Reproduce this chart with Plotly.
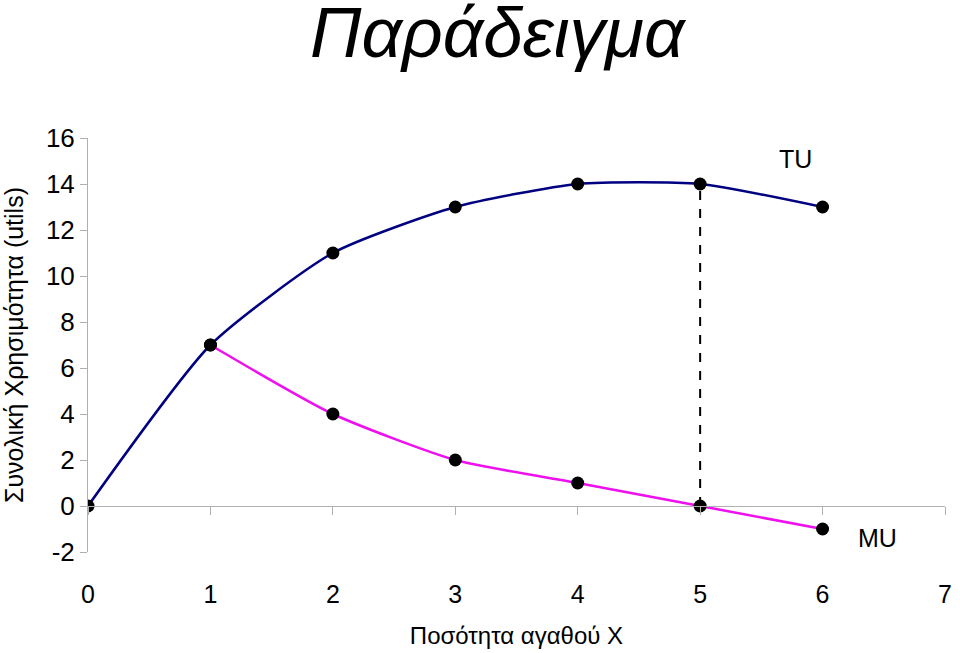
import plotly.graph_objects as go

qty = [0, 1, 2, 3, 4, 5, 6]
tu = [0, 7, 11, 13, 14, 14, 13]
mu_x = [1, 2, 3, 4, 5, 6]
mu = [7, 4, 2, 1, 0, -1]
dash_x = [5, 5]
dash_y = [0, 14]
x_ticks = [0, 1, 2, 3, 4, 5, 6, 7]
y_ticks = [-2, 0, 2, 4, 6, 8, 10, 12, 14, 16]
y_ticktext = ["-2", "0", "2", "4", "6", "8", "10", "12", "14", "16"]

FONT = "Liberation Sans, Arial, sans-serif"

fig = go.Figure()
fig.add_trace(go.Scatter(x=dash_x, y=dash_y, mode="lines",
                         line=dict(color="black", width=2, dash="dash"),
                         showlegend=False, hoverinfo="skip"))
fig.add_trace(go.Scatter(x=qty, y=tu, mode="lines",
                         line=dict(color="#000080", width=2.5, shape="spline", smoothing=0.6),
                         showlegend=False))
fig.add_trace(go.Scatter(x=mu_x, y=mu, mode="lines",
                         line=dict(color="#ee10ee", width=2.5, shape="spline", smoothing=0.6),
                         showlegend=False))
fig.add_trace(go.Scatter(x=qty, y=tu, mode="markers",
                         marker=dict(color="black", size=13), showlegend=False))
fig.add_trace(go.Scatter(x=mu_x, y=mu, mode="markers",
                         marker=dict(color="black", size=13), showlegend=False))
# helper trace on the secondary x axis (axis line at y = 0)
fig.add_trace(go.Scatter(x=[0, 7], y=[0, 0], xaxis="x2", mode="lines",
                         line=dict(color="rgba(0,0,0,0)"), showlegend=False,
                         hoverinfo="skip"))

fig.add_annotation(x=5.78, y=15.1, text="TU", showarrow=False,
                   font=dict(family=FONT, size=25, color="black"))
fig.add_annotation(x=6.45, y=-1.4, text="MU", showarrow=False,
                   font=dict(family=FONT, size=25, color="black"))

fig.update_layout(
    width=960, height=653,
    margin=dict(l=88, r=8, t=138, b=101),
    paper_bgcolor="white", plot_bgcolor="white",
    title=dict(text="<i>Παράδειγμα</i>", x=0.518, xanchor="center",
               y=0.951, yanchor="middle",
               font=dict(family=FONT, size=71, color="black")),
    xaxis=dict(range=[0, 7], tickvals=x_ticks, showgrid=False, zeroline=False,
               showline=False, ticks="", ticklabelstandoff=25,
               tickfont=dict(family=FONT, size=25, color="black"),
               title=dict(text="Ποσότητα αγαθού X", standoff=20,
                          font=dict(family=FONT, size=24, color="black"))),
    xaxis2=dict(range=[0, 7], tickvals=x_ticks, overlaying="x", anchor="free",
                position=46 / 414, showgrid=False, zeroline=False,
                showline=True, linecolor="#b0b0b0", linewidth=1,
                ticks="outside", ticklen=8, tickcolor="#b0b0b0",
                showticklabels=False),
    yaxis=dict(range=[-2, 16], tickvals=y_ticks, ticktext=y_ticktext,
               showgrid=False, zeroline=False,
               showline=True, linecolor="#b0b0b0", linewidth=1,
               ticks="outside", ticklen=7, tickcolor="#b0b0b0",
               tickfont=dict(family=FONT, size=26, color="black"),
               title=dict(text="Συνολική Χρησιμότητα (utils)", standoff=17,
                          font=dict(family=FONT, size=25, color="black"))),
)

fig.write_html("out.html")
